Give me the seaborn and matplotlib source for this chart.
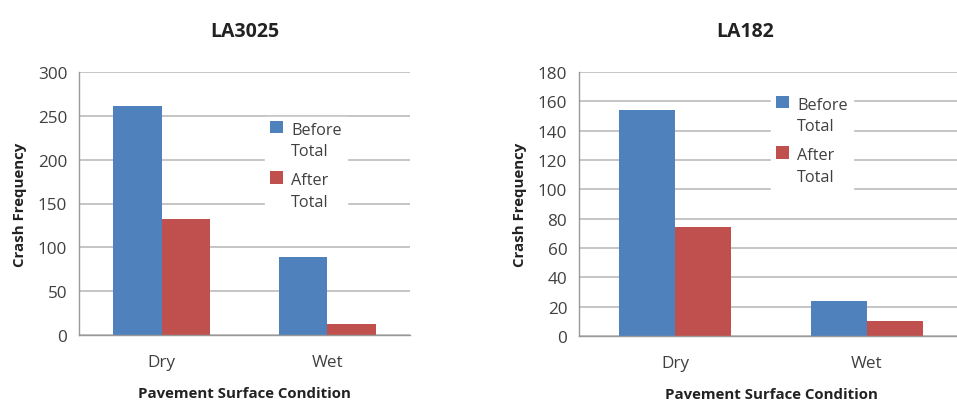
import pandas as pd
import seaborn as sns
import matplotlib.pyplot as plt
from matplotlib.legend_handler import HandlerPatch
from matplotlib.patches import Rectangle

OUTPUT_PNG = "out.png"

CONDITIONS = ["Dry", "Wet"]
PERIODS = ["Before Total", "After Total"]
LEGEND_LABELS = ["Before\nTotal", "After\nTotal"]

LA3025_BEFORE = [261, 89]
LA3025_AFTER = [132, 13]
LA182_BEFORE = [154, 24]
LA182_AFTER = [74, 10]

COLORS = ["#4F81BD", "#C0504D"]
GRID = "#BBBBBB"
AXIS = "#999999"
TEXT = "#404040"


def top_square(legend, orig_handle, xdescent, ydescent, width, height, fontsize):
    # put the swatch next to the first line of a two-line label
    return Rectangle((-xdescent, -ydescent + 0.85 * fontsize), width, height)


def make_frame(before, after):
    rows = []
    for period, values in zip(PERIODS, [before, after]):
        for cond, v in zip(CONDITIONS, values):
            rows.append({"condition": cond, "period": period, "crashes": v})
    return pd.DataFrame(rows)


def draw(ax, df, title, ymax, ystep, legend_xy, title_x=0.5):
    sns.barplot(
        data=df, x="condition", y="crashes", hue="period",
        hue_order=PERIODS, order=CONDITIONS, palette=COLORS,
        width=0.585, saturation=1, linewidth=0, ax=ax, legend=True,
    )
    ax.set_xlim(-0.5, 1.5)
    ax.set_ylim(0, ymax)
    ax.set_yticks(range(0, ymax + 1, ystep))
    ax.set_xticks([-0.5, 0.5, 1.5], minor=False)
    ax.set_xticklabels([])
    ax.set_xticks([0, 1], minor=True)
    ax.set_xticklabels(CONDITIONS, minor=True)
    ax.tick_params(axis="x", which="major", length=5, color=AXIS, width=1)
    ax.tick_params(axis="x", which="minor", length=0, pad=14, labelsize=12.3, labelcolor=TEXT)
    ax.tick_params(axis="y", length=5, color=AXIS, width=1, labelsize=12.3, labelcolor=TEXT)
    ax.grid(axis="y", color=GRID, linewidth=1.2)
    ax.grid(axis="x", visible=False)
    ax.set_axisbelow(True)
    for side in ["top", "right"]:
        ax.spines[side].set_visible(False)
    for side in ["left", "bottom"]:
        ax.spines[side].set_color(AXIS)
        ax.spines[side].set_linewidth(1)
    ax.set_title(title, fontsize=14, fontweight="bold", color="#222222", pad=26)
    ax.title.set_x(title_x)
    ax.set_xlabel("Pavement Surface Condition", fontsize=10.8, fontweight="bold",
                  color="#222222", labelpad=11)
    ax.set_ylabel("Crash Frequency", fontsize=10.8, fontweight="bold",
                  color="#222222", labelpad=8)
    handles, _ = ax.get_legend_handles_labels()
    leg = ax.legend(handles, LEGEND_LABELS, loc="upper left", bbox_to_anchor=legend_xy,
                    frameon=True, facecolor="white", edgecolor="white", framealpha=1,
                    fancybox=False, fontsize=11.7, labelcolor=TEXT, handlelength=0.8,
                    handleheight=0.8, handletextpad=0.5, labelspacing=0.8,
                    borderpad=0.3,
                    handler_map={h: HandlerPatch(patch_func=top_square) for h in handles})
    for t in leg.get_texts():
        t.set_linespacing(1.45)


def main() -> None:
    sns.set_style("white")
    plt.rcParams["font.family"] = ["Open Sans", "DejaVu Sans"]
    fig = plt.figure(figsize=(9.57, 4.02), dpi=100)
    ax1 = fig.add_axes([79 / 957, 1 - 336 / 402, 331 / 957, 263 / 402])
    ax2 = fig.add_axes([579 / 957, 1 - 337 / 402, 384 / 957, 264 / 402])

    draw(ax1, make_frame(LA3025_BEFORE, LA3025_AFTER), "LA3025", 300, 50, (0.538, 0.86))
    draw(ax2, make_frame(LA182_BEFORE, LA182_AFTER), "LA182", 180, 20, (0.479, 0.955),
         title_x=0.432)

    fig.savefig(OUTPUT_PNG, dpi=100)


if __name__ == "__main__":
    main()
